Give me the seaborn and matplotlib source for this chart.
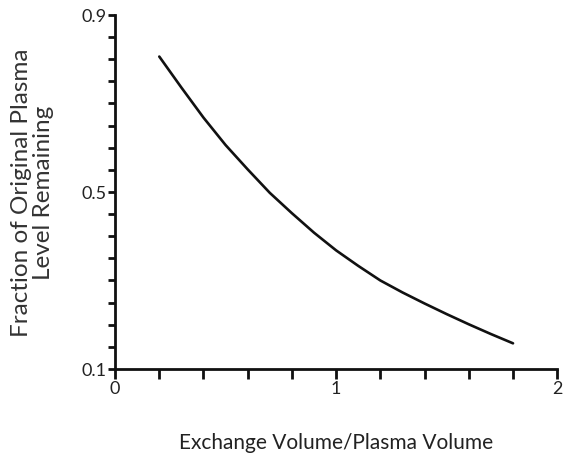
import matplotlib
matplotlib.use("Agg")
import matplotlib.pyplot as plt
from matplotlib.ticker import MultipleLocator, FixedLocator
import seaborn as sns
import pandas as pd

exchange_ratio = [0.2, 0.3, 0.4, 0.5, 0.6, 0.7, 0.8, 0.9, 1.0, 1.1, 1.2, 1.3, 1.4, 1.5, 1.6, 1.7, 1.8]
fraction_remaining = [0.806, 0.736, 0.668, 0.606, 0.551, 0.498, 0.452, 0.408, 0.368, 0.333, 0.300, 0.273, 0.248, 0.224, 0.201, 0.179, 0.158]
x_ticks = [0, 1, 2]
y_ticks = [0.1, 0.5, 0.9]

df = pd.DataFrame({"x": exchange_ratio, "y": fraction_remaining})

sns.set_style("ticks")
narrow = ["Lato", "DejaVu Sans"]
plt.rcParams["font.family"] = narrow

fig = plt.figure(figsize=(5.64, 4.64), dpi=100)
ax = fig.add_axes([0.204, 0.2026, 0.784, 0.763])

sns.lineplot(data=df, x="x", y="y", ax=ax, color="#111111", linewidth=1.9)

ax.set_xlim(0, 2)
ax.set_ylim(0.1, 0.9)
ax.xaxis.set_major_locator(FixedLocator(x_ticks))
ax.yaxis.set_major_locator(FixedLocator(y_ticks))
ax.xaxis.set_minor_locator(MultipleLocator(0.2))
ax.yaxis.set_minor_locator(MultipleLocator(0.05))
ax.set_xticklabels([str(v) for v in x_ticks])
ax.set_yticklabels([str(v) for v in y_ticks])

for s in ["top", "right"]:
    ax.spines[s].set_visible(False)
for s in ["left", "bottom"]:
    ax.spines[s].set_linewidth(2.0)
    ax.spines[s].set_color("#111111")

ax.tick_params(axis="both", which="both", direction="out", width=2.0, color="#111111",
               labelsize=13, labelcolor="#222222", pad=1)
ax.tick_params(axis="y", which="both", length=5)
ax.tick_params(axis="x", which="both", length=7)

ax.set_xlabel("Exchange Volume/Plasma Volume", fontsize=15, color="#222222", labelpad=26)
ax.set_ylabel("Fraction of Original Plasma\nLevel Remaining", fontsize=17.5, color="#333333",
              labelpad=20, linespacing=1.05)

fig.savefig("out.png", dpi=100)
